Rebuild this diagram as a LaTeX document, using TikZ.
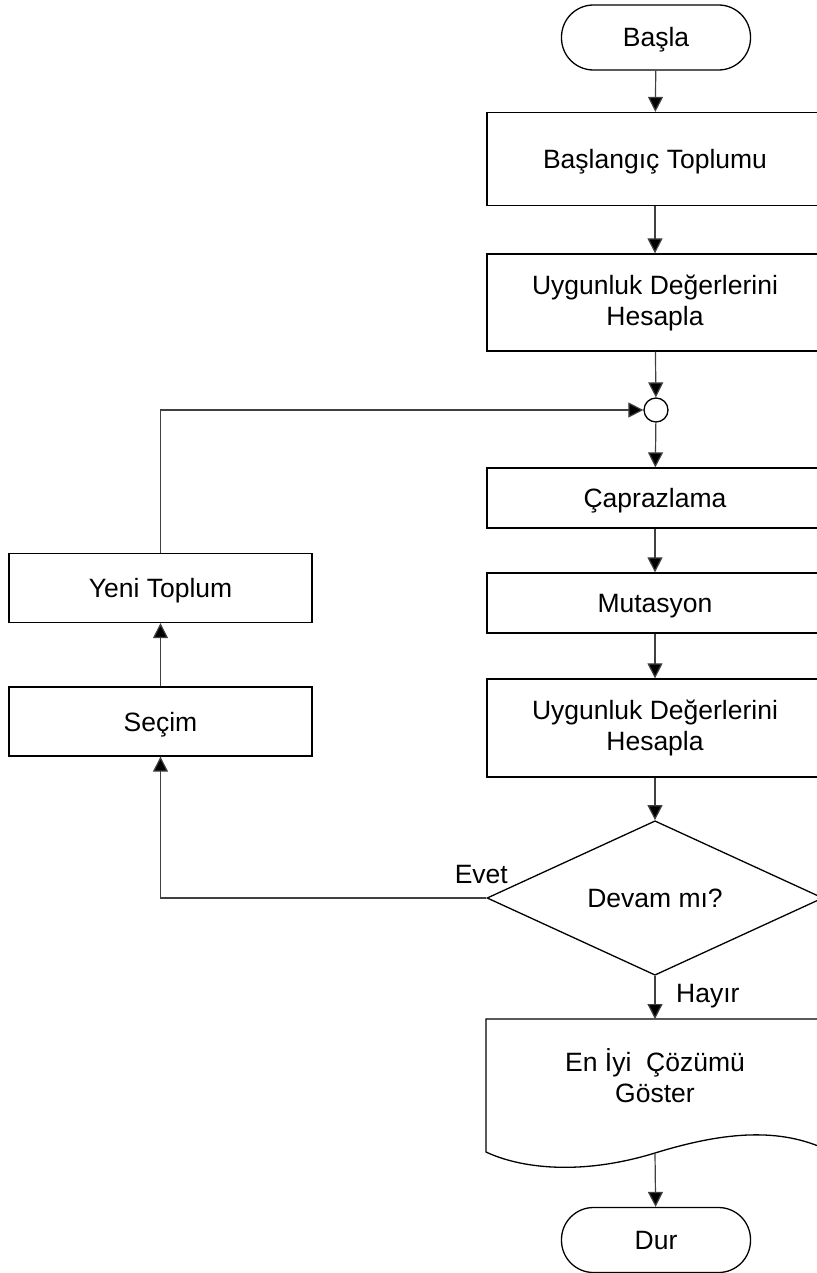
\documentclass[tikz,border=0pt]{standalone}
\usepackage{fontspec}
\setmainfont{Liberation Sans}
\usetikzlibrary{arrows.meta,shapes.geometric}

\begin{document}
\begin{tikzpicture}[x=1pt,y=-1pt,
  font=\fontsize{26.5}{31}\selectfont,
  shapeline/.style={draw=black,line width=1.3pt},
  capline/.style={text height=19pt,text depth=0pt},
  procbox/.style={shapeline,rectangle,inner sep=0pt,minimum width=336pt,align=center},
  sidebox/.style={shapeline,capline,rectangle,inner sep=0pt,minimum width=303pt,minimum height=69pt},
  terminal/.style={shapeline,capline,rectangle,rounded corners=32pt,inner sep=0pt,minimum width=189pt,minimum height=65pt},
  arr/.style={draw=black!75,line width=1.2pt,-{Triangle[length=15pt,width=15pt,fill=black]}},
  lbl/.style={capline,inner sep=0pt}
]
\useasboundingbox (0,0) rectangle (816,1273);

% main column
\node[terminal] (start) at (656,37.5) {Başla};
\node[procbox,capline,minimum height=93pt] (init) at (655,159) {Başlangıç Toplumu};
\node[procbox,minimum height=97pt] (fit1) at (655,302.5) {Uygunluk Değerlerini\\Hesapla};
\node[shapeline,circle,inner sep=0pt,minimum size=24pt] (junc) at (656,410) {};
\node[procbox,capline,minimum height=60pt] (cross) at (655,498) {Çaprazlama};
\node[procbox,capline,minimum height=60pt] (mut) at (655,603) {Mutasyon};
\node[procbox,minimum height=98pt] (fit2) at (655,728) {Uygunluk Değerlerini\\Hesapla};
\node[shapeline,capline,diamond,inner sep=0pt,minimum width=336pt,minimum height=149pt] (dec) at (655,898) {Devam mı?};

% output document with wavy bottom edge
\draw[shapeline,line join=miter]
  (823,1148) -- (823,1019) -- (486,1019) -- (486,1152)
  .. controls (520,1168) and (580,1176) .. (655,1153)
  .. controls (720,1133) and (775,1127) .. (823,1148);
\node[inner sep=0pt,align=center] (show) at (655,1076) {En İyi~ Çözümü\\Göster};
\coordinate (showtop) at (655,1019);
\coordinate (showbot) at (655,1153);

\node[terminal] (stop) at (656,1240) {Dur};

% loop column
\node[sidebox] (sel) at (160.5,721.5) {Seçim};
\node[sidebox] (newpop) at (160.5,588) {Yeni Toplum};

% connectors
\draw[arr] (start) -- (init);
\draw[arr] (init) -- (fit1);
\draw[arr] (fit1) -- (junc);
\draw[arr] (junc) -- (cross);
\draw[arr] (cross) -- (mut);
\draw[arr] (mut) -- (fit2);
\draw[arr] (fit2) -- (dec);
\draw[arr] (dec.south) -- (showtop);
\draw[arr] (showbot) -- (stop);
\draw[arr] (dec.west) -| (sel.south);
\draw[arr] (sel) -- (newpop);
\draw[arr] (newpop.north) |- (junc.west);

% branch labels
\node[lbl,anchor=east] (yes) at (508,874) {Evet};
\node[lbl,anchor=west] (no) at (676,993) {Hayır};
\end{tikzpicture}
\end{document}
